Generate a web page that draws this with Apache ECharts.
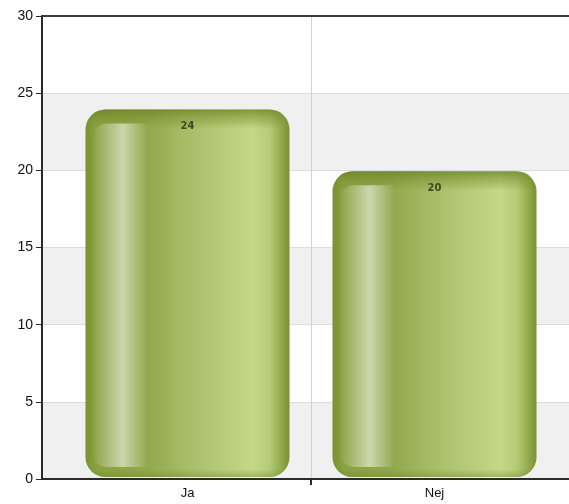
<!DOCTYPE html>
<html>
<head>
<meta charset="utf-8">
<script src="https://cdn.jsdelivr.net/npm/echarts@6/dist/echarts.min.js"></script>
<style>
html,body{margin:0;padding:0;background:#fff;}
#chart{width:569px;height:504px;}
</style>
</head>
<body>
<div id="chart"></div>
<script>
const categories = ['Ja', 'Nej'];
const values = [24, 20];
const yTicks = { min: 0, max: 30, interval: 5 };

const seriesData = categories.map((c, i) => [i, values[i]]);

const BAR_RATIO = 0.826;

function renderItem(params, api) {
  const xi = api.value(0), v = api.value(1);
  const top = api.coord([xi, v]);
  const base = api.coord([xi, 0]);
  const band = api.size([1, 0])[0];
  const bw = band * BAR_RATIO;
  const x0 = top[0] - bw / 2;
  const y0 = top[1] + 1;
  const h = base[1] - 2 - y0;
  const r = 20;
  const rimTop = 12 / h;
  const children = [
    {
      type: 'rect',
      shape: { x: x0, y: y0, width: bw, height: h, r: r },
      style: {
        fill: new echarts.graphic.LinearGradient(0, 0, 1, 0, [
          { offset: 0, color: '#7a9131' },
          { offset: 0.05, color: '#8aa143' },
          { offset: 0.3, color: '#92a84d' },
          { offset: 0.5, color: '#a7bd68' },
          { offset: 0.82, color: '#c3d989' },
          { offset: 0.9, color: '#b6cc78' },
          { offset: 0.96, color: '#92aa4c' },
          { offset: 1, color: '#7a9131' }
        ])
      }
    },
    {
      type: 'rect',
      shape: { x: x0, y: y0, width: bw, height: h, r: r },
      style: {
        fill: new echarts.graphic.LinearGradient(0, 0, 0, 1, [
          { offset: 0, color: 'rgba(105,130,35,0.75)' },
          { offset: rimTop, color: 'rgba(120,145,45,0.35)' },
          { offset: rimTop * 1.6, color: 'rgba(120,145,45,0)' },
          { offset: 1 - 8 / h, color: 'rgba(110,135,40,0)' },
          { offset: 1, color: 'rgba(105,130,35,0.4)' }
        ])
      }
    },
    {
      type: 'rect',
      shape: { x: x0 + bw * 0.035, y: y0 + 14, width: bw * 0.27, height: h - 24, r: [14, 0, 0, 14] },
      style: {
        fill: new echarts.graphic.LinearGradient(0, 0, 1, 0, [
          { offset: 0, color: 'rgba(230,236,210,0.0)' },
          { offset: 0.25, color: 'rgba(225,232,205,0.35)' },
          { offset: 0.55, color: 'rgba(225,232,205,0.75)' },
          { offset: 0.8, color: 'rgba(220,228,200,0.35)' },
          { offset: 1, color: 'rgba(220,228,200,0.0)' }
        ])
      }
    },
    {
      type: 'text',
      style: {
        x: top[0],
        y: y0 + 17,
        text: String(v),
        align: 'center',
        verticalAlign: 'middle',
        fill: '#3d4a21',
        font: 'bold 10px "DejaVu Sans"'
      }
    }
  ];
  return { type: 'group', children: children };
}

const chart = echarts.init(document.getElementById('chart'), null, { renderer: 'canvas' });
chart.setOption({
  animation: false,
  backgroundColor: '#ffffff',
  grid: [
    { left: 42, right: 0, top: 16, bottom: 25 },
    { left: 64, right: 11, top: 16, bottom: 25 }
  ],
  xAxis: [
    {
      gridIndex: 0, type: 'value', min: 0, max: 1, position: 'bottom', z: 3,
      axisLine: { show: true, lineStyle: { color: '#2a2a2a', width: 2 } },
      axisTick: { show: false }, axisLabel: { show: false }, splitLine: { show: false }
    },
    {
      gridIndex: 0, type: 'value', min: 0, max: 1, position: 'top', z: 3,
      axisLine: { show: true, lineStyle: { color: '#3a3a3a', width: 2 } },
      axisTick: { show: false }, axisLabel: { show: false }, splitLine: { show: false }
    },
    {
      gridIndex: 1, type: 'value', min: -0.5, max: 1.5, interval: 1, z: 2,
      axisLine: { show: false },
      axisTick: { show: true, customValues: [0.5], length: 6, lineStyle: { color: '#2a2a2a', width: 2 } },
      axisLabel: {
        show: true, customValues: categories.map((c, i) => i),
        formatter: v => categories[Math.round(v)] || '',
        color: '#111', fontSize: 13, fontFamily: 'Liberation Sans', margin: 8
      },
      splitLine: { show: true, lineStyle: { color: '#d2d2d2', width: 1 } }
    }
  ],
  yAxis: [
    {
      gridIndex: 0, type: 'value', min: yTicks.min, max: yTicks.max, interval: yTicks.interval, z: 1,
      axisLine: { show: true, lineStyle: { color: '#2a2a2a', width: 2 } },
      axisTick: { show: true, length: 6, lineStyle: { color: '#2a2a2a', width: 1 } },
      axisLabel: { color: '#111', fontSize: 14, fontFamily: 'Liberation Sans', margin: 9 },
      splitLine: { show: true, lineStyle: { color: '#dcdcdc', width: 1 } },
      splitArea: { show: true, areaStyle: { color: ['#f0f0f0', '#ffffff'] } }
    },
    {
      gridIndex: 1, type: 'value', min: yTicks.min, max: yTicks.max, interval: yTicks.interval,
      show: false
    }
  ],
  series: [
    {
      type: 'custom',
      xAxisIndex: 2,
      yAxisIndex: 1,
      renderItem: renderItem,
      data: seriesData,
      encode: { x: 0, y: 1 },
      clip: true,
      z: 5
    }
  ]
});
</script>
</body>
</html>
